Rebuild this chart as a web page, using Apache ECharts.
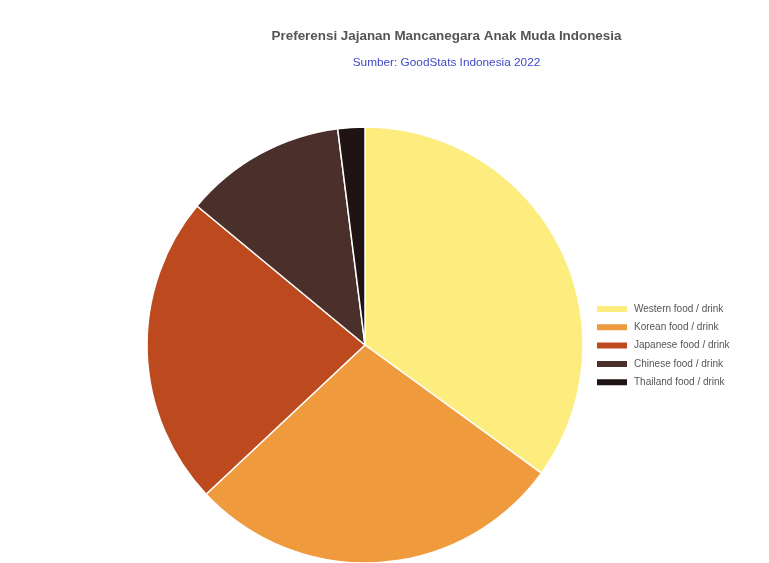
<!DOCTYPE html>
<html><head><meta charset="utf-8">
<script src="https://cdn.jsdelivr.net/npm/echarts@6/dist/echarts.min.js"></script>
<style>html,body{margin:0;padding:0;background:#fff}#c{width:769px;height:563px}</style>
</head><body><div id="c"></div>
<script>
const categories = ['Western food / drink','Korean food / drink','Japanese food / drink','Chinese food / drink','Thailand food / drink'];
const values = [35, 28, 23, 12, 2];
const colors = ['#FDEC7E','#F09A3E','#BD4A1E','#4A2F2A','#1F1413'];
const titleText = 'Preferensi Jajanan Mancanegara Anak Muda Indonesia';
const subText = 'Sumber: GoodStats Indonesia 2022';

const FONT = '"Liberation Sans", Arial, Helvetica, sans-serif';
const chart = echarts.init(document.getElementById('c'), null, {renderer:'canvas'});
chart.setOption({
  backgroundColor:'#ffffff',
  animation:false,
  title:{
    text:titleText, subtext:subText, left:441.5, textAlign:'center', top:25, itemGap:14,
    textStyle:{fontFamily:FONT, fontSize:13.4, fontWeight:'bold', color:'#555555'},
    subtextStyle:{fontFamily:FONT, fontSize:11.8, color:'#3F48C8'}
  },
  legend:{
    orient:'vertical', left:595, top:304, padding:0, itemWidth:32, itemHeight:8, itemGap:8.3,
    icon:'rect',
    textStyle:{fontFamily:FONT, fontSize:10, color:'#555555', padding:[0,0,0,1]},
    data:categories
  },
  series:[{
    type:'pie', center:[365,345], radius:[0,218], startAngle:90, clockwise:true,
    label:{show:false}, labelLine:{show:false},
    itemStyle:{borderColor:'#ffffff', borderWidth:1.5},
    emphasis:{disabled:true},
    data:categories.map((n,i)=>({name:n, value:values[i], itemStyle:{color:colors[i]}}))
  }]
});
</script></body></html>
